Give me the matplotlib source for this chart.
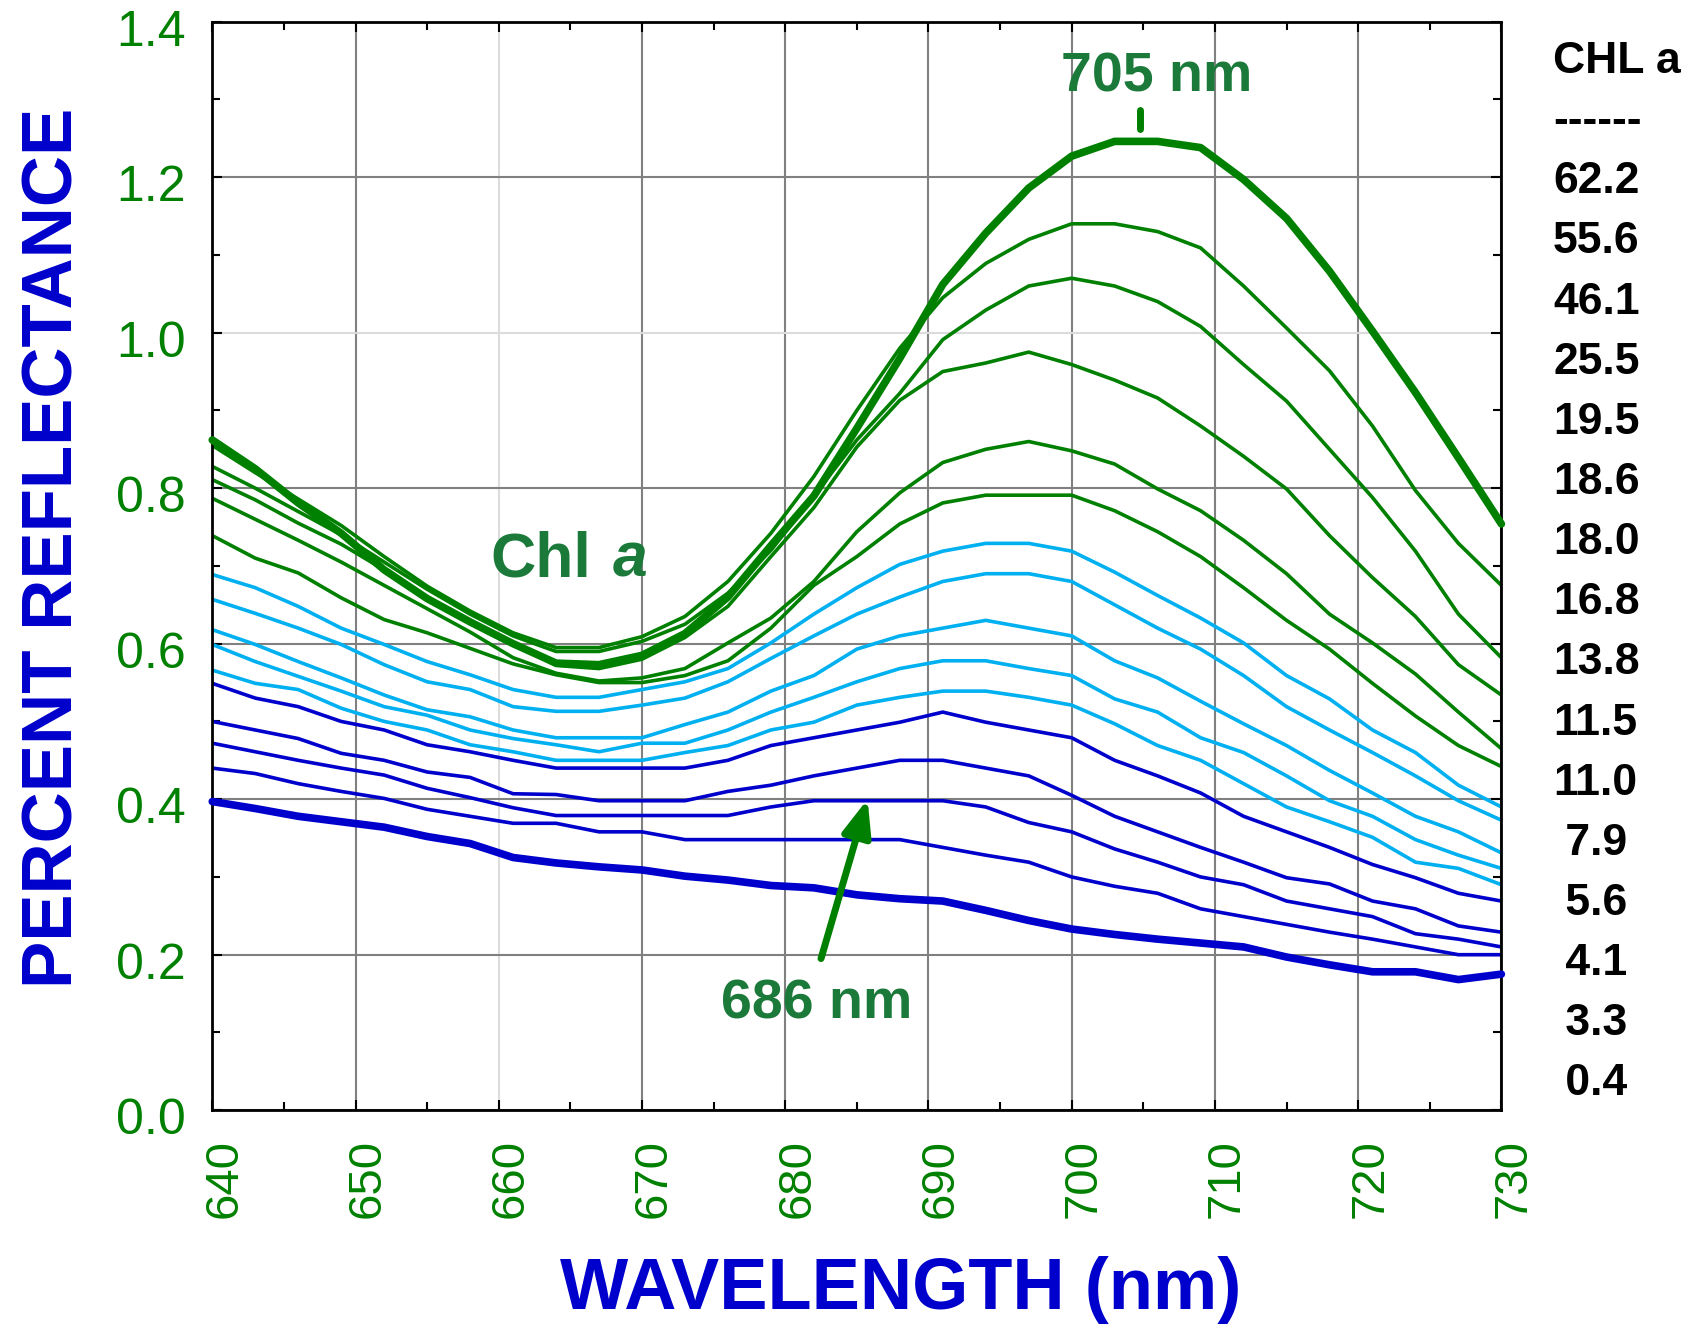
import matplotlib
matplotlib.use('Agg')
import matplotlib.pyplot as plt
from matplotlib.ticker import MultipleLocator, FormatStrFormatter
from matplotlib.transforms import ScaledTranslation

plt.rcParams['font.family'] = ['Liberation Sans', 'DejaVu Sans']

# wavelengths (nm), one reading every 3 nm
wavelength = [640, 643, 646, 649, 652, 655, 658, 661, 664, 667, 670,
              673, 676, 679, 682, 685, 688, 691, 694, 697, 700,
              703, 706, 709, 712, 715, 718, 721, 724, 727, 730]

# percent reflectance per chlorophyll a concentration
r62_2 = [0.862, 0.825, 0.781, 0.742, 0.695, 0.658, 0.628, 0.600, 0.575, 0.573, 0.585,
         0.613, 0.660, 0.726, 0.790, 0.877, 0.967, 1.062, 1.128, 1.186, 1.227,
         1.246, 1.246, 1.238, 1.197, 1.147, 1.079, 1.002, 0.923, 0.839, 0.754]
r55_6 = [0.855, 0.820, 0.786, 0.752, 0.712, 0.674, 0.642, 0.614, 0.595, 0.595, 0.609,
         0.635, 0.680, 0.742, 0.815, 0.900, 0.980, 1.045, 1.089, 1.120, 1.140,
         1.140, 1.130, 1.109, 1.060, 1.006, 0.951, 0.880, 0.797, 0.729, 0.675]
r46_1 = [0.828, 0.800, 0.770, 0.740, 0.705, 0.670, 0.638, 0.610, 0.590, 0.590, 0.603,
         0.625, 0.665, 0.720, 0.790, 0.862, 0.922, 0.991, 1.029, 1.060, 1.070,
         1.060, 1.040, 1.008, 0.959, 0.912, 0.850, 0.788, 0.719, 0.638, 0.582]
r25_5 = [0.811, 0.785, 0.755, 0.728, 0.695, 0.660, 0.630, 0.600, 0.572, 0.568, 0.580,
         0.608, 0.648, 0.712, 0.775, 0.853, 0.913, 0.950, 0.961, 0.975, 0.959,
         0.939, 0.916, 0.880, 0.841, 0.799, 0.739, 0.685, 0.635, 0.573, 0.534]
r19_5 = [0.787, 0.760, 0.733, 0.705, 0.675, 0.645, 0.615, 0.582, 0.562, 0.552, 0.556,
         0.568, 0.601, 0.633, 0.680, 0.744, 0.794, 0.833, 0.850, 0.860, 0.848,
         0.831, 0.799, 0.771, 0.733, 0.690, 0.638, 0.601, 0.561, 0.512, 0.465]
r18_6 = [0.739, 0.710, 0.691, 0.659, 0.631, 0.614, 0.594, 0.574, 0.560, 0.550, 0.550,
         0.559, 0.578, 0.620, 0.675, 0.712, 0.754, 0.781, 0.791, 0.791, 0.791,
         0.771, 0.744, 0.712, 0.672, 0.630, 0.593, 0.549, 0.507, 0.469, 0.442]
r18_0 = [0.689, 0.672, 0.648, 0.620, 0.599, 0.577, 0.560, 0.541, 0.531, 0.531, 0.541,
         0.551, 0.568, 0.601, 0.638, 0.672, 0.702, 0.719, 0.729, 0.729, 0.719,
         0.692, 0.662, 0.633, 0.601, 0.559, 0.529, 0.489, 0.460, 0.418, 0.390]
r16_8 = [0.657, 0.639, 0.620, 0.599, 0.573, 0.551, 0.541, 0.519, 0.513, 0.513, 0.521,
         0.530, 0.551, 0.581, 0.610, 0.638, 0.660, 0.680, 0.690, 0.690, 0.680,
         0.650, 0.620, 0.593, 0.559, 0.519, 0.489, 0.460, 0.430, 0.398, 0.373]
r13_8 = [0.618, 0.599, 0.577, 0.556, 0.534, 0.515, 0.506, 0.489, 0.479, 0.479, 0.479,
         0.496, 0.512, 0.539, 0.559, 0.593, 0.610, 0.620, 0.630, 0.620, 0.610,
         0.578, 0.556, 0.526, 0.497, 0.469, 0.437, 0.408, 0.378, 0.358, 0.331]
r11_5 = [0.599, 0.577, 0.558, 0.539, 0.519, 0.508, 0.489, 0.478, 0.470, 0.461, 0.472,
         0.472, 0.489, 0.512, 0.531, 0.551, 0.568, 0.578, 0.578, 0.568, 0.559,
         0.529, 0.512, 0.479, 0.460, 0.430, 0.398, 0.378, 0.348, 0.328, 0.311]
r11_0 = [0.566, 0.549, 0.541, 0.517, 0.500, 0.489, 0.470, 0.461, 0.450, 0.450, 0.450,
         0.460, 0.469, 0.489, 0.499, 0.521, 0.531, 0.539, 0.539, 0.531, 0.521,
         0.497, 0.469, 0.450, 0.420, 0.390, 0.371, 0.351, 0.319, 0.311, 0.290]
r7_9 = [0.549, 0.530, 0.519, 0.500, 0.489, 0.470, 0.461, 0.450, 0.440, 0.440, 0.440,
        0.440, 0.450, 0.469, 0.479, 0.489, 0.499, 0.512, 0.499, 0.489, 0.479,
        0.450, 0.430, 0.408, 0.378, 0.358, 0.338, 0.316, 0.299, 0.279, 0.269]
r5_6 = [0.500, 0.489, 0.478, 0.459, 0.450, 0.435, 0.428, 0.407, 0.406, 0.398, 0.398,
        0.398, 0.410, 0.418, 0.430, 0.440, 0.450, 0.450, 0.440, 0.430, 0.405,
        0.378, 0.358, 0.338, 0.319, 0.299, 0.291, 0.269, 0.259, 0.237, 0.229]
r4_1 = [0.472, 0.461, 0.450, 0.440, 0.431, 0.414, 0.402, 0.389, 0.379, 0.379, 0.379,
        0.379, 0.379, 0.390, 0.398, 0.398, 0.398, 0.398, 0.390, 0.370, 0.358,
        0.336, 0.319, 0.300, 0.290, 0.269, 0.259, 0.249, 0.227, 0.220, 0.210]
r3_3 = [0.440, 0.433, 0.420, 0.410, 0.401, 0.387, 0.378, 0.369, 0.369, 0.358, 0.358,
        0.348, 0.348, 0.348, 0.348, 0.348, 0.348, 0.338, 0.328, 0.319, 0.300,
        0.288, 0.279, 0.259, 0.249, 0.239, 0.229, 0.220, 0.210, 0.200, 0.200]
r0_4 = [0.397, 0.388, 0.378, 0.371, 0.364, 0.352, 0.343, 0.325, 0.318, 0.313, 0.309,
        0.301, 0.296, 0.289, 0.286, 0.277, 0.272, 0.269, 0.257, 0.244, 0.233,
        0.226, 0.220, 0.215, 0.210, 0.197, 0.187, 0.178, 0.178, 0.168, 0.175]

chl_labels = ['62.2', '55.6', '46.1', '25.5', '19.5', '18.6', '18.0', '16.8',
              '13.8', '11.5', '11.0', ' 7.9', ' 5.6', ' 4.1', ' 3.3', ' 0.4']

GREEN = '#008000'
LBLUE = '#00b0f0'
DBLUE = '#0000cc'
TXTGREEN = '#1b7a3a'

series = [r62_2, r55_6, r46_1, r25_5, r19_5, r18_6,
          r18_0, r16_8, r13_8, r11_5, r11_0,
          r7_9, r5_6, r4_1, r3_3, r0_4]
colors = [GREEN] * 6 + [LBLUE] * 5 + [DBLUE] * 5
widths = [5.5] + [2.6] * 14 + [5.5]

fig = plt.figure(figsize=(16.9, 13.28), dpi=100)
ax = fig.add_axes([0.1256, 0.1640, 0.7628, 0.8197])

# thin ones first, the two thick ones on top
order = list(range(1, 15)) + [15, 0]
for i in order:
    thick = widths[i] > 4
    ax.plot(wavelength, series[i], color=colors[i], lw=widths[i],
            solid_capstyle='round' if thick else 'butt',
            solid_joinstyle='round', clip_on=False, zorder=3 if thick else 2)

ax.set_xlim(640, 730)
ax.set_ylim(0, 1.4)
ax.xaxis.set_major_locator(MultipleLocator(10))
ax.xaxis.set_minor_locator(MultipleLocator(5))
ax.yaxis.set_major_locator(MultipleLocator(0.2))
ax.yaxis.set_minor_locator(MultipleLocator(0.1))
ax.yaxis.set_major_formatter(FormatStrFormatter('%.1f'))

ax.grid(True, which='major', color='#808080', lw=1.5)
ax.set_axisbelow(True)
light_x = [660]
light_y = [1.0]
for gl, v in zip(ax.get_xgridlines(), ax.get_xticks()):
    if v in light_x:
        gl.set_color('#dcdcdc')
for gl, v in zip(ax.get_ygridlines(), ax.get_yticks()):
    if any(abs(v - w) < 1e-9 for w in light_y):
        gl.set_color('#dcdcdc')

for sp in ax.spines.values():
    sp.set_linewidth(2)
    sp.set_color('black')

ax.tick_params(which='both', direction='in', top=True, right=True, width=1.5)
ax.tick_params(which='major', length=7)
ax.tick_params(which='minor', length=6)
ax.tick_params(axis='y', labelsize=36, labelcolor=GREEN, pad=19)
ax.tick_params(axis='x', labelsize=34, labelcolor=GREEN, pad=21, labelrotation=90)

for t in ax.xaxis.get_major_ticks():
    t.label1.set_transform(t.label1.get_transform() +
                           ScaledTranslation(0.12, 0, fig.dpi_scale_trans))
for t in ax.yaxis.get_major_ticks():
    t.label1.set_transform(t.label1.get_transform() +
                           ScaledTranslation(0, -0.06, fig.dpi_scale_trans))

ax.set_xlabel('WAVELENGTH (nm)', fontsize=52, fontweight='bold', color=DBLUE)
ax.xaxis.set_label_coords(0.534, -0.134)
ax.set_ylabel('PERCENT REFLECTANCE', fontsize=51, fontweight='bold', color=DBLUE)
ax.yaxis.set_label_coords(-0.097, 0.517)

# annotations
ax.text(705.9, 1.328, '705 nm', fontsize=40, fontweight='bold', color=TXTGREEN,
        ha='center', va='center')
ax.plot([704.8, 704.8], [1.262, 1.286], color=GREEN, lw=5, solid_capstyle='round')

ax.text(682.2, 0.136, '686 nm', fontsize=40, fontweight='bold', color=TXTGREEN,
        ha='center', va='center')
ax.annotate('', xy=(685.75, 0.400), xytext=(682.5, 0.195),
            arrowprops=dict(arrowstyle='-|>,head_length=1.0,head_width=0.4',
                            color=GREEN, lw=5, mutation_scale=22,
                            shrinkA=0, shrinkB=0))

chl_txt = ax.text(659.4, 0.707, 'Chl', fontsize=45, fontweight='bold',
                  color=TXTGREEN, ha='left', va='center')
ax.annotate('a', xy=(1, 0), xycoords=chl_txt, xytext=(16, 0),
            textcoords='offset points', fontsize=45, fontweight='bold',
            fontstyle='italic', color=TXTGREEN, ha='left', va='bottom')

# concentration list on the right
fig.text(0.919, 1 - 61.4 / 1328, 'CHL a', fontsize=32, fontweight='bold',
         color='black', ha='left', va='center')
fig.text(0.919, 1 - 121.5 / 1328, '------', fontsize=32, fontweight='bold',
         color='black', ha='left', va='center')
for i, lab in enumerate(chl_labels):
    fig.text(0.919, 1 - (181.7 + 60.15 * i) / 1328, lab, fontsize=32,
             fontweight='bold', color='black', ha='left', va='center')

fig.savefig('out.png', dpi=100)
